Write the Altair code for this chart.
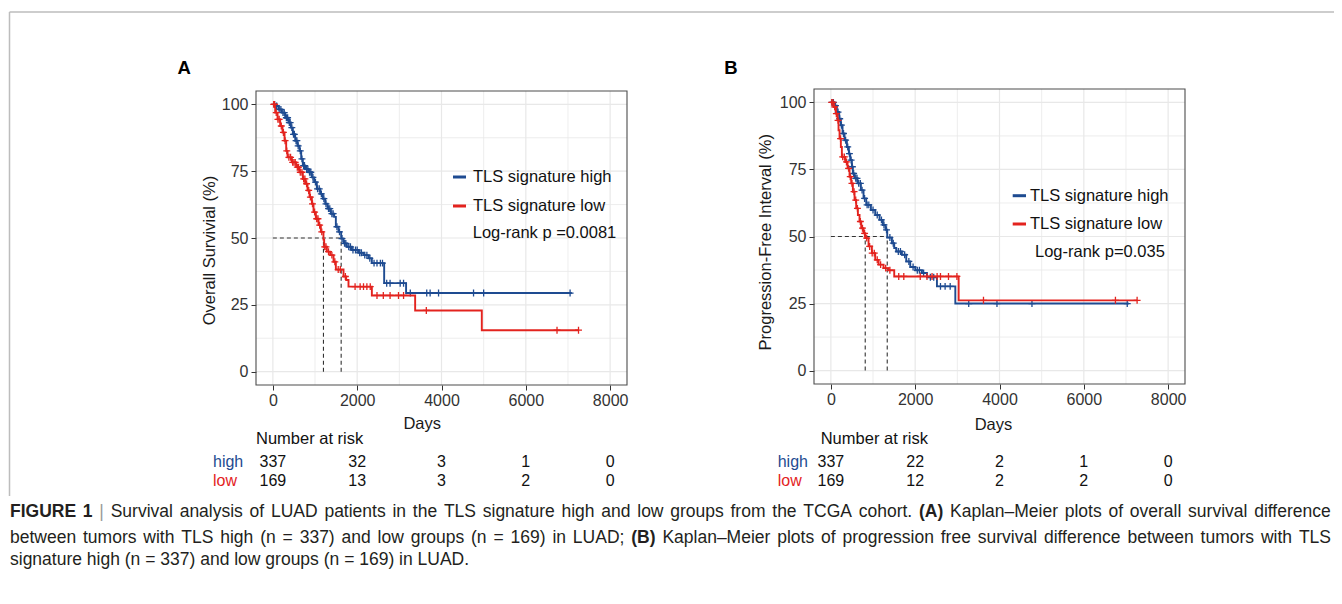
import altair as alt
import pandas as pd

# ------------------------------------------------------------------ data
BLUE = "#1E4B91"
RED = "#E3231E"
FONT = "Liberation Sans"

GROUPS = ["high", "low"]
RISK_TIMES = [0, 2000, 4000, 6000, 8000]
X_MAJOR = [0, 2000, 4000, 6000, 8000]
X_MINOR = [1000, 3000, 5000, 7000]
Y_MAJOR = [0, 25, 50, 75, 100]
Y_MINOR = [12.5, 37.5, 62.5, 87.5]

# Panel A : overall survival
OS_HIGH_T = [0, 79, 134, 213, 292, 372, 427, 474, 530, 585, 632, 672, 711, 767, 846, 925, 980,
             1043, 1123, 1186, 1241, 1296, 1375, 1455, 1494, 1557, 1620, 1676, 1755, 1873, 2032,
             2150, 2269, 2348, 2640, 3160, 7091]
OS_HIGH_S = [100, 99.4, 98.1, 96.9, 95.0, 93.2, 91.3, 88.8, 86.4, 84.5, 82.6, 79.6, 77.1, 75.8,
             74.6, 72.7, 70.9, 68.4, 66.5, 64.7, 62.8, 61.0, 59.1, 57.9, 54.2, 52.3, 49.8, 48.0,
             46.7, 45.5, 44.5, 43.6, 42.4, 40.6, 33.1, 29.4, 29.4]
OS_HIGH_CENSOR = [40, 90, 150, 190, 240, 270, 320, 350, 390, 410, 450, 490, 510, 550, 570, 600,
                  650, 690, 730, 750, 800, 830, 870, 900, 950, 1010, 1060, 1100, 1150, 1210, 1260,
                  1320, 1350, 1400, 1430, 1520, 1580, 1640, 1700, 1730, 1800, 1840, 1900, 1960,
                  2000, 2060, 2100, 2180, 2230, 2300, 2400, 2470, 2550, 2600, 2700, 2780, 3020,
                  3100, 3260, 3650, 3730, 3930, 4760, 5000, 7050]
OS_LOW_T = [0, 55, 111, 174, 229, 277, 316, 348, 451, 553, 632, 711, 767, 822, 870, 925, 964,
            1020, 1083, 1138, 1200, 1217, 1281, 1360, 1439, 1494, 1676, 1739, 1794, 2348, 3375,
            4956, 7250]
OS_LOW_S = [100, 96.9, 94.4, 91.9, 89.5, 86.4, 82.6, 80.2, 78.3, 76.5, 74.6, 72.1, 70.3, 67.8,
            65.3, 62.8, 59.7, 57.2, 54.8, 52.3, 49.4, 46.7, 44.9, 43.6, 41.1, 38.2, 35.6, 34.3,
            31.8, 28.5, 22.9, 15.5, 15.5]
OS_LOW_CENSOR = [20, 40, 80, 120, 150, 200, 250, 290, 330, 380, 420, 470, 500, 530, 580, 610, 650,
                 690, 730, 760, 800, 850, 890, 940, 990, 1040, 1070, 1110, 1160, 1230, 1260, 1320,
                 1400, 1470, 1550, 1600, 1720, 1950, 2070, 2150, 2230, 2310, 2470, 2620, 2780,
                 2980, 3100, 3640, 6740, 7250]
OS_MEDIANS = [1200, 1620]
OS_RISK_HIGH = [337, 32, 3, 1, 0]
OS_RISK_LOW = [169, 13, 3, 2, 0]

# Panel B : progression-free interval
PFI_HIGH_T = [0, 79, 142, 198, 237, 277, 324, 380, 427, 459, 499, 522, 562, 633, 712, 775, 839,
              950, 1052, 1155, 1234, 1298, 1337, 1448, 1503, 1551, 1685, 1788, 1883, 2002, 2160,
              2279, 2516, 2952, 7066]
PFI_HIGH_S = [100, 98.8, 96.4, 93.9, 91.5, 88.4, 85.9, 83.4, 80.9, 78.5, 76.0, 73.5, 71.7, 69.8,
              67.3, 64.2, 61.8, 59.9, 58.0, 56.2, 54.3, 52.5, 49.6, 47.5, 45.7, 44.4, 43.2, 40.7,
              38.6, 37.4, 36.4, 34.8, 31.4, 25.0, 25.0]
PFI_HIGH_CENSOR = [30, 60, 110, 170, 210, 250, 300, 350, 400, 440, 480, 510, 540, 590, 620, 660,
                   700, 740, 800, 860, 900, 1000, 1100, 1200, 1260, 1320, 1400, 1480, 1600, 1650,
                   1750, 1850, 1950, 2050, 2100, 2200, 2360, 2440, 2600, 2710, 2830, 3270, 3940,
                   4770, 7030]
PFI_LOW_T = [0, 63, 119, 158, 182, 206, 237, 261, 340, 396, 443, 483, 522, 562, 601, 641, 680,
             720, 775, 815, 894, 973, 1052, 1132, 1250, 1369, 1503, 3031, 7264]
PFI_LOW_S = [100, 98.3, 95.8, 93.3, 89.6, 86.5, 83.4, 79.7, 77.8, 75.4, 72.3, 69.8, 66.7, 63.6,
             60.5, 58.0, 55.6, 53.1, 51.2, 49.4, 46.3, 43.8, 41.3, 39.5, 38.2, 37.4, 35.1, 26.2,
             26.2]
PFI_LOW_CENSOR = [20, 50, 90, 130, 170, 230, 280, 320, 370, 420, 460, 500, 550, 590, 630, 700,
                  750, 800, 850, 920, 980, 1030, 1100, 1180, 1300, 1400, 1610, 1730, 2120, 2280,
                  2400, 2520, 2600, 2790, 2990, 3620, 6750, 7264]
PFI_MEDIANS = [815, 1337]
PFI_RISK_HIGH = [337, 22, 2, 1, 0]
PFI_RISK_LOW = [169, 12, 2, 2, 0]

LEGEND_LABELS = ["TLS signature high", "TLS signature low"]

CAPTION_1 = [("FIGURE", 1), ("1", 1), ("|", 2), ("Survival", 0), ("analysis", 0), ("of", 0),
             ("LUAD", 0), ("patients", 0), ("in", 0), ("the", 0), ("TLS", 0), ("signature", 0),
             ("high", 0), ("and", 0), ("low", 0), ("groups", 0), ("from", 0), ("the", 0),
             ("TCGA", 0), ("cohort.", 0), ("(A)", 1), ("Kaplan–Meier", 0), ("plots", 0),
             ("of", 0), ("overall", 0), ("survival", 0), ("difference", 0)]
CAPTION_2 = [("between", 0), ("tumors", 0), ("with", 0), ("TLS", 0), ("high", 0), ("(n", 0),
             ("=", 0), ("337)", 0), ("and", 0), ("low", 0), ("groups", 0), ("(n", 0), ("=", 0),
             ("169)", 0), ("in", 0), ("LUAD;", 0), ("(B)", 1), ("Kaplan–Meier", 0), ("plots", 0),
             ("of", 0), ("progression", 0), ("free", 0), ("survival", 0), ("difference", 0),
             ("between", 0), ("tumors", 0), ("with", 0), ("TLS", 0)]
CAPTION_3 = [("signature", 0), ("high", 0), ("(n", 0), ("=", 0), ("337)", 0), ("and", 0),
             ("low", 0), ("groups", 0), ("(n", 0), ("=", 0), ("169)", 0), ("in", 0),
             ("LUAD.", 0)]

# ------------------------------------------------------------------ layout
W, H = 1326, 588
XDOM = [-400, 8400]
YDOM = [-5, 105]
COLOR = alt.Scale(domain=GROUPS, range=[BLUE, RED])

# Arial / Liberation Sans advance widths (1/1000 em) for caption layout
_REG = dict(zip("abcdefghijklmnopqrstuvwxyz",
                [556, 556, 500, 556, 556, 278, 556, 556, 222, 222, 500, 222, 833, 556, 556, 556,
                 556, 333, 500, 278, 556, 500, 722, 500, 500, 500]))
_REG.update(dict(zip("ABCDEFGHIJKLMNOPQRSTUVWXYZ",
                     [667, 667, 722, 722, 667, 611, 778, 722, 278, 500, 667, 556, 833, 722, 778,
                      667, 778, 722, 667, 611, 722, 667, 944, 667, 667, 611])))
_REG.update({c: 556 for c in "0123456789"})
_REG.update({"(": 333, ")": 333, ".": 278, ";": 278, ",": 278, "=": 584, "–": 556, "|": 260,
             " ": 278, "-": 333})
_BOLD = dict(_REG)
_BOLD.update(dict(zip("ABCDEFGHIJKLMNOPQRSTUVWXYZ",
                      [722, 722, 722, 722, 667, 611, 778, 722, 278, 556, 722, 611, 833, 722, 778,
                       667, 778, 722, 667, 611, 722, 667, 944, 667, 667, 611])))


def text_w(word, bold, size):
    table = _BOLD if bold == 1 else _REG
    return sum(table.get(c, 556) for c in word) * size / 1000.0


def caption_rows(words, y, x0, x1, size, justify):
    widths = [text_w(w, b, size) for w, b in words]
    gap = 278 * size / 1000.0
    if justify and len(words) > 1:
        gap = max(2.0, (x1 - x0 - sum(widths)) / (len(words) - 1))
    rows, x = [], x0
    for (w, b), wd in zip(words, widths):
        rows.append(dict(x=x, y=y, t=w, b=b))
        x += wd + gap
    return rows


def step_lookup(ts, ss, d):
    val = ss[0]
    for t, s in zip(ts, ss):
        if t <= d:
            val = s
    return val


def panel(p):
    sx = alt.Scale(domain=XDOM, range=p["xr"], nice=False, zero=False)
    sy = alt.Scale(domain=YDOM, range=p["yr"], nice=False, zero=False)
    layers = []

    grid = ([dict(x=v, x2=v, y=YDOM[0], y2=YDOM[1], k="maj") for v in X_MAJOR] +
            [dict(x=v, x2=v, y=YDOM[0], y2=YDOM[1], k="min") for v in X_MINOR] +
            [dict(x=XDOM[0], x2=XDOM[1], y=v, y2=v, k="maj") for v in Y_MAJOR] +
            [dict(x=XDOM[0], x2=XDOM[1], y=v, y2=v, k="min") for v in Y_MINOR])
    gdf = pd.DataFrame(grid)
    for k, wdt in (("min", 0.8), ("maj", 1.2)):
        layers.append(alt.Chart(gdf[gdf.k == k]).mark_rule(color="#E8E8E8", strokeWidth=wdt).encode(
            x=alt.X("x:Q", scale=sx, axis=None), x2="x2:Q",
            y=alt.Y("y:Q", scale=sy, axis=None), y2="y2:Q"))

    frame = pd.DataFrame([dict(x=XDOM[0], x2=XDOM[1], y=YDOM[0], y2=YDOM[1])])
    xaxis = alt.Axis(orient="bottom", offset=-(H - p["yr"][0]), values=X_MAJOR, format="d",
                     grid=False, domain=False, tickSize=5, tickColor="#333333", tickWidth=1,
                     labelFont=FONT, labelFontSize=16, labelColor="#333333", labelPadding=2,
                     labelFlush=False, labelOverlap=False,
                     title="Days", titleFont=FONT, titleFontSize=16.5, titleFontWeight="normal",
                     titleColor="#1a1a1a", titleX=p["days_x"], titleY=p["days_y"],
                     titleAlign="center", titleBaseline="middle")
    yaxis = alt.Axis(orient="left", offset=-p["xr"][0], values=Y_MAJOR, format="d",
                     grid=False, domain=False, tickSize=5, tickColor="#333333", tickWidth=1,
                     labelFont=FONT, labelFontSize=16, labelColor="#333333", labelPadding=3,
                     labelOverlap=False,
                     title=p["ytitle"], titleFont=FONT, titleFontSize=16.5,
                     titleFontWeight="normal", titleColor="#1a1a1a", titleAngle=270,
                     titleX=p["yt_x"], titleY=p["yt_y"], titleAlign="center",
                     titleBaseline="middle")
    layers.append(alt.Chart(frame).mark_rect(fill=None, stroke="#4d4d4d", strokeWidth=1.1).encode(
        x=alt.X("x:Q", scale=sx, axis=xaxis), x2="x2:Q",
        y=alt.Y("y:Q", scale=sy, axis=yaxis), y2="y2:Q"))

    med = p["medians"]
    mdf = pd.DataFrame([dict(x=0, x2=max(med), y=50, y2=50)] +
                       [dict(x=m, x2=m, y=0, y2=50) for m in med])
    layers.append(alt.Chart(mdf).mark_rule(color="#333333", strokeWidth=1.1,
                                           strokeDash=[4, 3]).encode(
        x=alt.X("x:Q", scale=sx, axis=None), x2="x2:Q",
        y=alt.Y("y:Q", scale=sy, axis=None), y2="y2:Q"))

    for g, ts, ss, cs in (("high", p["ht"], p["hs"], p["hc"]), ("low", p["lt"], p["ls"], p["lc"])):
        cdf = pd.DataFrame(dict(day=ts, surv=ss, grp=g))
        layers.append(alt.Chart(cdf).mark_line(interpolate="step-after", strokeWidth=1.9).encode(
            x=alt.X("day:Q", scale=sx, axis=None), y=alt.Y("surv:Q", scale=sy, axis=None),
            color=alt.Color("grp:N", scale=COLOR, legend=None)))
        pdf = pd.DataFrame(dict(day=cs, surv=[step_lookup(ts, ss, d) for d in cs], grp=g))
        layers.append(alt.Chart(pdf).mark_point(shape="M-1,0H1M0,-1V1", filled=False, size=48,
                                                strokeWidth=1.3, opacity=1).encode(
            x=alt.X("day:Q", scale=sx, axis=None), y=alt.Y("surv:Q", scale=sy, axis=None),
            color=alt.Color("grp:N", scale=COLOR, legend=None)))

    # legend
    lx0, lx1, tx = p["leg_x"]
    ldf = pd.DataFrame(dict(grp=GROUPS, lab=LEGEND_LABELS, y=p["leg_y"], x=lx0, x2=lx1, tx=tx))
    layers.append(alt.Chart(ldf).mark_rule(strokeWidth=3).encode(
        x=alt.X("x:Q", scale=None), x2="x2:Q", y=alt.Y("y:Q", scale=None),
        color=alt.Color("grp:N", scale=COLOR, legend=None)))
    layers.append(alt.Chart(ldf).mark_text(align="left", baseline="middle", font=FONT,
                                           fontSize=16.5, color="#111111").encode(
        x=alt.X("tx:Q", scale=None), y=alt.Y("y:Q", scale=None), text="lab:N"))
    layers.append(alt.Chart(pd.DataFrame([dict(t=p["logrank"])])).mark_text(
        align="left", baseline="middle", font=FONT, fontSize=16.5, color="#111111").encode(
        x=alt.value(p["lr_xy"][0]), y=alt.value(p["lr_xy"][1]), text="t:N"))
    layers.append(alt.Chart(pd.DataFrame([dict(t=p["letter"])])).mark_text(
        align="center", baseline="middle", font=FONT, fontSize=18.5, fontWeight="bold",
        color="#000000").encode(
        x=alt.value(p["letter_xy"][0]), y=alt.value(p["letter_xy"][1]), text="t:N"))

    # risk table
    sr = alt.Scale(type="point", domain=GROUPS, range=[454, 473], padding=0)
    layers.append(alt.Chart(pd.DataFrame([dict(t="Number at risk")])).mark_text(
        align="left", baseline="middle", font=FONT, fontSize=16.5, color="#111111").encode(
        x=alt.value(p["nar_x"]), y=alt.value(431), text="t:N"))
    rl = pd.DataFrame(dict(grp=GROUPS))
    layers.append(alt.Chart(rl).mark_text(align="left", baseline="middle", font=FONT,
                                          fontSize=16).encode(
        x=alt.value(p["row_x"]), y=alt.Y("grp:N", scale=sr, axis=None), text="grp:N",
        color=alt.Color("grp:N", scale=COLOR, legend=None)))
    rdf = pd.DataFrame(dict(t=RISK_TIMES * 2, grp=["high"] * 5 + ["low"] * 5,
                            n=p["rh"] + p["rl"]))
    layers.append(alt.Chart(rdf).mark_text(align="center", baseline="middle", font=FONT,
                                           fontSize=16, color="#111111").encode(
        x=alt.X("t:Q", scale=sx, axis=None), y=alt.Y("grp:N", scale=sr, axis=None),
        text="n:N"))
    return layers


PA = dict(xr=[248, 619], yr=[377, 83], days_x=413.7, days_y=38.5,
          ytitle="Overall Survivial (%)", yt_x=-47, yt_y=242,
          ht=OS_HIGH_T, hs=OS_HIGH_S, hc=OS_HIGH_CENSOR,
          lt=OS_LOW_T, ls=OS_LOW_S, lc=OS_LOW_CENSOR, medians=OS_MEDIANS,
          leg_x=(445, 458, 465), leg_y=[169, 198], logrank="Log-rank p =0.0081",
          lr_xy=(464.7, 225), letter="A", letter_xy=(176.3, 59.5),
          nar_x=248, row_x=205, rh=OS_RISK_HIGH, rl=OS_RISK_LOW)
PB = dict(xr=[806, 1177], yr=[376, 81], days_x=985, days_y=40.5,
          ytitle="Progression-Free Interval (%)", yt_x=-49, yt_y=233.7,
          ht=PFI_HIGH_T, hs=PFI_HIGH_S, hc=PFI_HIGH_CENSOR,
          lt=PFI_LOW_T, ls=PFI_LOW_S, lc=PFI_LOW_CENSOR, medians=PFI_MEDIANS,
          leg_x=(1004.7, 1018, 1022), leg_y=[187.7, 216], logrank="Log-rank p=0.035",
          lr_xy=(1027, 243.7), letter="B", letter_xy=(723, 60),
          nar_x=812.7, row_x=769.7, rh=PFI_RISK_HIGH, rl=PFI_RISK_LOW)

layers = panel(PA) + panel(PB)

# figure frame (top and left rules)
border = pd.DataFrame([dict(x=1.5, x2=W, y=4, y2=4), dict(x=1.5, x2=1.5, y=4, y2=488)])
layers.append(alt.Chart(border).mark_rule(color="#BDBDBD", strokeWidth=1.5).encode(
    x=alt.X("x:Q", scale=None), x2="x2:Q", y=alt.Y("y:Q", scale=None), y2="y2:Q"))

# caption
CAP_SIZE = 17.5
cap = (caption_rows(CAPTION_1, 504, 2, 1323, CAP_SIZE, True) +
       caption_rows(CAPTION_2, 530, 2, 1323, CAP_SIZE, True) +
       caption_rows(CAPTION_3, 552, 2, 1323, CAP_SIZE, False))
cdf = pd.DataFrame(cap)
for b, weight, col in ((0, "normal", "#231F20"), (1, "bold", "#231F20"), (2, "normal", "#9A9A9A")):
    layers.append(alt.Chart(cdf[cdf.b == b]).mark_text(
        align="left", baseline="middle", font=FONT, fontSize=CAP_SIZE, fontWeight=weight,
        color=col).encode(x=alt.X("x:Q", scale=None), y=alt.Y("y:Q", scale=None), text="t:N"))

chart = alt.layer(*layers).resolve_scale(
    x="independent", y="independent", color="independent"
).properties(
    width=W, height=H, padding=0, autosize=alt.AutoSizeParams(type="none")
).configure_view(stroke=None)

chart.save("out.html", embed_options={"renderer": "svg", "actions": False})
